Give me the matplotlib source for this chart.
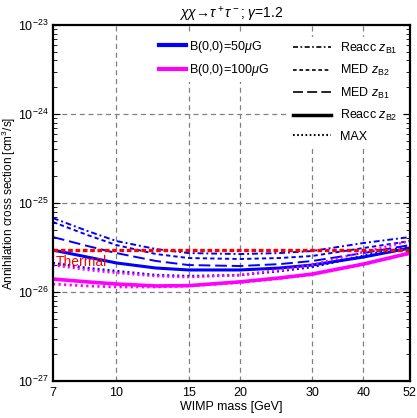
import numpy as np
import matplotlib as mpl
mpl.use("Agg")
import matplotlib.pyplot as plt
from matplotlib.lines import Line2D

mpl.rcParams.update({"font.family": "Liberation Sans", "mathtext.fontset": "custom",
    "mathtext.rm": "Liberation Sans", "mathtext.it": "Liberation Sans:italic",
    "mathtext.bf": "Liberation Sans:bold"})

# WIMP mass [GeV] and cross sections in units of 1e-26 cm^3/s
mass = [7, 8.5, 10, 12.5, 15, 20, 25, 30, 40, 52]
b50_reacc_zb1 = [6.78, 4.85, 3.74, 3.04, 2.74, 2.67, 2.74, 2.89, 3.55, 4.15]
b50_med_zb2 = [6.12, 4.37, 3.37, 2.67, 2.41, 2.35, 2.41, 2.54, 3.12, 3.74]
b50_med_zb1 = [4.15, 3.29, 2.74, 2.23, 2.01, 1.96, 2.06, 2.23, 2.74, 3.37]
b50_reacc_zb2 = [2.96, 2.47, 2.12, 1.86, 1.77, 1.77, 1.86, 2.01, 2.47, 3.12]
b50_max = [2.12, 1.86, 1.72, 1.55, 1.51, 1.55, 1.72, 1.91, 2.54, 3.29]
b100_upper = [2.01, 1.77, 1.64, 1.51, 1.47, 1.55, 1.77, 2.01, 2.81, 3.74]
b100_reacc_zb2 = [1.40, 1.30, 1.23, 1.17, 1.18, 1.30, 1.44, 1.59, 2.06, 2.74]
b100_max = [1.23, 1.17, 1.14, 1.14, 1.17, 1.28, 1.42, 1.57, 2.04, 2.71]
thermal = 3.0
xticks = [7, 10, 15, 20, 30, 40, 52]

BLUE = "#0000ff"; MAG = "#ff00ff"; RED = "#ff0000"
DD = (0, (3, 1.5, 1, 1.5)); SD = (0, (2.2, 1.6)); LD = (0, (6, 2.5)); DOT = (0, (0.8, 1.2))

def s(v): return np.array(v) * 1e-26

fig = plt.figure(figsize=(4.17, 4.18), dpi=100)
ax = fig.add_axes([0.127, 0.0885, 0.856, 0.8515])
ax.set_xscale("log"); ax.set_yscale("log")
ax.set_xlim(7, 52); ax.set_ylim(1e-27, 1e-23)

for xv in xticks[1:-1]:
    ax.axvline(xv, color="#808080", lw=0.9, ls=(0, (4, 3)), zorder=0)
for yv in [1e-26, 1e-25, 1e-24]:
    ax.axhline(yv, color="#808080", lw=0.9, ls=(0, (4, 3)), zorder=0)

m = np.array(mass)
ax.plot(m, s(b50_reacc_zb1), color=BLUE, lw=1.4, ls=DD)
ax.plot(m, s(b50_med_zb2), color=BLUE, lw=1.4, ls=SD)
ax.plot(m, s(b50_med_zb1), color=BLUE, lw=1.4, ls=LD)
ax.plot(m, s(b50_reacc_zb2), color=BLUE, lw=2.2)
ax.plot(m, s(b50_max), color=BLUE, lw=1.8, ls=DOT)
ax.plot(m, s(b100_upper), color=MAG, lw=1.8, ls=DOT)
ax.plot(m, s(b100_reacc_zb2), color=MAG, lw=2.6)
ax.plot(m, s(b100_max), color=MAG, lw=2.0, ls=DOT)
ax.plot([7, 52], [thermal * 1e-26] * 2, color=RED, lw=2.4, ls=(0, (1.4, 0.8)))
ax.text(7.1, 2.6e-26, "Thermal", color=RED, fontsize=10, va="top", ha="left")

ax.set_xticks(xticks); ax.set_xticklabels([str(v) for v in xticks])
ax.xaxis.set_minor_locator(mpl.ticker.NullLocator())
ax.tick_params(axis="x", which="both", length=0, labelsize=9, pad=4)
ax.set_yticks([1e-27, 1e-26, 1e-25, 1e-24, 1e-23])
ax.tick_params(axis="y", which="both", direction="in", right=True, labelsize=9)
ax.tick_params(axis="y", which="major", length=5)
ax.tick_params(axis="y", which="minor", length=3)
for sp in ax.spines.values(): sp.set_linewidth(1.6)

ax.set_xlabel("WIMP mass [GeV]", fontsize=9, labelpad=2)
ax.set_ylabel("Annihilation cross section [cm$^3$/s]", fontsize=8.5)
ax.yaxis.set_label_coords(-0.098, 0.5)
ax.set_title(r"$\chi\chi\!\rightarrow\!\tau^+\tau^-$; $\gamma$=1.2", fontsize=10, pad=5)

h1 = [Line2D([], [], color=BLUE, lw=3), Line2D([], [], color=MAG, lw=3)]
leg1 = ax.legend(h1, [r"B(0,0)=50$\mu$G", r"B(0,0)=100$\mu$G"], loc="upper left",
                 bbox_to_anchor=(0.27, 0.99), fontsize=9, handlelength=2.1, handletextpad=0.3,
                 labelspacing=0.6, framealpha=1, facecolor="white", edgecolor="none",
                 fancybox=False, borderpad=0.3)
ax.add_artist(leg1)
h2 = [Line2D([], [], color="k", lw=1.2, ls=DD), Line2D([], [], color="k", lw=1.2, ls=SD),
      Line2D([], [], color="k", lw=1.2, ls=LD), Line2D([], [], color="k", lw=2.5),
      Line2D([], [], color="k", lw=1.5, ls=DOT)]
lab2 = [r"Reacc $z_{\rm B1}$", r"MED $z_{\rm B2}$", r"MED $z_{\rm B1}$",
        r"Reacc $z_{\rm B2}$", "MAX"]
ax.legend(h2, lab2, loc="upper left", bbox_to_anchor=(0.645, 0.985), fontsize=9,
          handlelength=3.0, handletextpad=0.75, labelspacing=0.6, framealpha=1,
          facecolor="white", edgecolor="none", fancybox=False, borderpad=0.3)

fig.savefig("out.png", dpi=100)
